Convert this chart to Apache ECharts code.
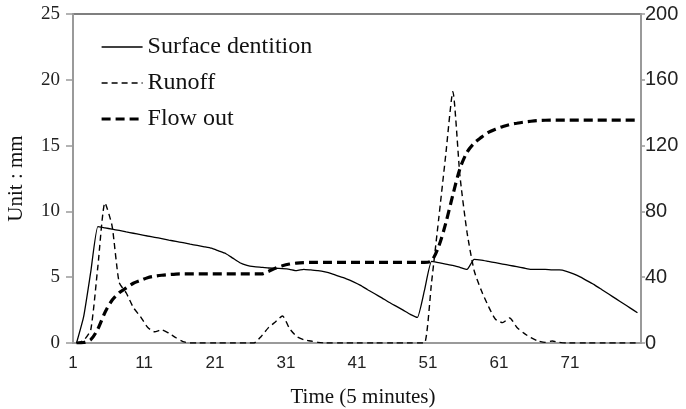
<!DOCTYPE html>
<html>
<head>
<meta charset="utf-8">
<script src="https://cdn.jsdelivr.net/npm/echarts@6/dist/echarts.min.js"></script>
<style>
  html, body { margin: 0; padding: 0; background: #fff; }
  #chart { width: 686px; height: 409px; }
</style>
</head>
<body>
<div id="chart"></div>
<script>
// time steps 1..80 (5 minutes each)
const timeSteps = Array.from({ length: 80 }, (_, i) => String(i + 1));

// left axis, mm
const surfaceDentition = [
  0, 2.0, 5.4, 8.85, 8.75, 8.65, 8.55, 8.44, 8.34, 8.24,
  8.13, 8.03, 7.93, 7.82, 7.72, 7.62, 7.51, 7.41, 7.31, 7.2,
  7.0, 6.8, 6.45, 6.1, 5.9, 5.8, 5.75, 5.7, 5.68, 5.65,
  5.6, 5.5, 5.6, 5.55, 5.5, 5.4, 5.25, 5.06, 4.88, 4.65,
  4.38, 4.05, 3.74, 3.43, 3.1, 2.8, 2.5, 2.18, 1.95, 4.0,
  6.2, 6.1, 6.0, 5.9, 5.75, 5.6, 6.35, 6.3, 6.2, 6.1,
  6.0, 5.9, 5.8, 5.7, 5.6, 5.6, 5.6, 5.55, 5.55, 5.45,
  5.25, 5.0, 4.7, 4.4, 4.05, 3.7, 3.35, 3.0, 2.65, 2.3
];

const runoff = [
  0, 0.2, 1.0, 5.8, 10.65, 8.9, 4.6, 3.8, 2.7, 2.0,
  1.2, 0.85, 1.0, 0.75, 0.4, 0.1, 0, 0, 0, 0,
  0, 0, 0, 0, 0, 0, 0.5, 1.15, 1.6, 2.05,
  1.1, 0.5, 0.25, 0.15, 0.05, 0, 0, 0, 0, 0,
  0, 0, 0, 0, 0, 0, 0, 0, 0, 0,
  4.6, 9.4, 14.3, 19.1, 12.7, 8.4, 5.5, 4.0, 2.8, 1.8,
  1.55, 1.9, 1.2, 0.75, 0.4, 0.15, 0.05, 0.15, 0.05, 0,
  0, 0, 0, 0, 0, 0, 0, 0, 0, 0
];

// right axis
const flowOut = [
  0, 0.3, 2, 8.5, 18.5, 26, 30.5, 33.5, 36.3, 38,
  39.7, 40.6, 41.2, 41.6, 41.9, 42, 42, 42, 42, 42,
  42, 42, 42, 42, 42, 42, 42, 43.5, 45.5, 47,
  48, 48.6, 48.9, 49, 49, 49, 49, 49, 49, 49,
  49, 49, 49, 49, 49, 49, 49, 49, 49, 49,
  50, 58.6, 72.8, 90, 106, 116, 121.5, 125, 128, 130,
  131.5, 132.8, 133.6, 134.3, 134.8, 135.2, 135.4, 135.5, 135.5, 135.5,
  135.5, 135.5, 135.5, 135.5, 135.5, 135.5, 135.5, 135.5, 135.5, 135.5
];

const serif = '"Liberation Serif", "DejaVu Serif", serif';
const sans = 'Arial, "Liberation Sans", sans-serif';
const axisGrey = '#9a9a9a';

const runoffDash = [6, 4];
const flowDash = [9, 5];

const chartOption = {
  animation: false,
  grid: {
    left: 73,
    right: 45,
    top: 14,
    bottom: 66,
    outerBoundsMode: 'none',
    containLabel: false,
    show: true,
    borderColor: '#555',
    borderWidth: 1.5,
  },
  legend: {
    left: 95,
    top: 29,
    orient: 'vertical',
    itemWidth: 41,
    itemHeight: 14,
    itemGap: 10,
    itemStyle: { opacity: 0 },
    textStyle: {
      fontFamily: serif,
      fontSize: 24,
      lineHeight: 26,
      color: '#111',
    },
    data: [
      { name: 'Surface dentition', lineStyle: { width: 1.3, type: 'solid' } },
      { name: 'Runoff', lineStyle: { width: 1.4, type: runoffDash } },
      { name: 'Flow out', lineStyle: { width: 3.2, type: flowDash } },
    ],
  },
  xAxis: {
    type: 'category',
    data: timeSteps,
    boundaryGap: true,
    name: 'Time (5 minutes)',
    nameLocation: 'middle',
    nameGap: 44,
    nameTextStyle: { fontFamily: serif, fontSize: 21, color: '#111', padding: [0, 0, 0, 12] },
    axisLine: { lineStyle: { color: axisGrey, width: 2 } },
    axisTick: { interval: 4, length: 7, lineStyle: { color: axisGrey, width: 1.5 } },
    axisLabel: {
      interval: 9,
      margin: 12,
      fontFamily: sans,
      fontSize: 17,
      color: '#222',
      padding: [0, 7, 0, 0],
    },
    splitLine: { show: false },
  },
  yAxis: [
    {
      type: 'value',
      min: 0,
      max: 25,
      interval: 5,
      name: 'Unit : mm',
      nameLocation: 'middle',
      nameGap: 46,
      nameTextStyle: { fontFamily: serif, fontSize: 21, color: '#111' },
      axisLine: { show: true, lineStyle: { color: axisGrey, width: 2 } },
      axisTick: { show: true, length: 7, lineStyle: { color: axisGrey, width: 1.5 } },
      axisLabel: { margin: 13, fontFamily: serif, fontSize: 19, color: '#222' },
      splitLine: { show: false },
    },
    {
      type: 'value',
      min: 0,
      max: 200,
      interval: 40,
      position: 'right',
      axisLine: { show: true, lineStyle: { color: axisGrey, width: 2 } },
      axisTick: { show: true, length: 4, lineStyle: { color: axisGrey, width: 1.5 } },
      axisLabel: { margin: 4, fontFamily: sans, fontSize: 20, color: '#222' },
      splitLine: { show: false },
    },
  ],
  series: [
    {
      name: 'Surface dentition',
      type: 'line',
      data: surfaceDentition,
      yAxisIndex: 0,
      symbol: 'none',
      smooth: 0.15,
      lineStyle: { color: '#000', width: 1.3, type: 'solid' },
      itemStyle: { color: '#000' },
      z: 3,
    },
    {
      name: 'Runoff',
      type: 'line',
      data: runoff,
      yAxisIndex: 0,
      symbol: 'none',
      smooth: 0.2,
      lineStyle: { color: '#000', width: 1.4, type: runoffDash },
      itemStyle: { color: '#000' },
      z: 4,
    },
    {
      name: 'Flow out',
      type: 'line',
      data: flowOut,
      yAxisIndex: 1,
      symbol: 'none',
      smooth: 0.3,
      lineStyle: { color: '#000', width: 3.2, type: flowDash },
      itemStyle: { color: '#000' },
      z: 5,
    },
  ],
};

const myChart = echarts.init(document.getElementById('chart'));
myChart.setOption(chartOption);
</script>
</body>
</html>
